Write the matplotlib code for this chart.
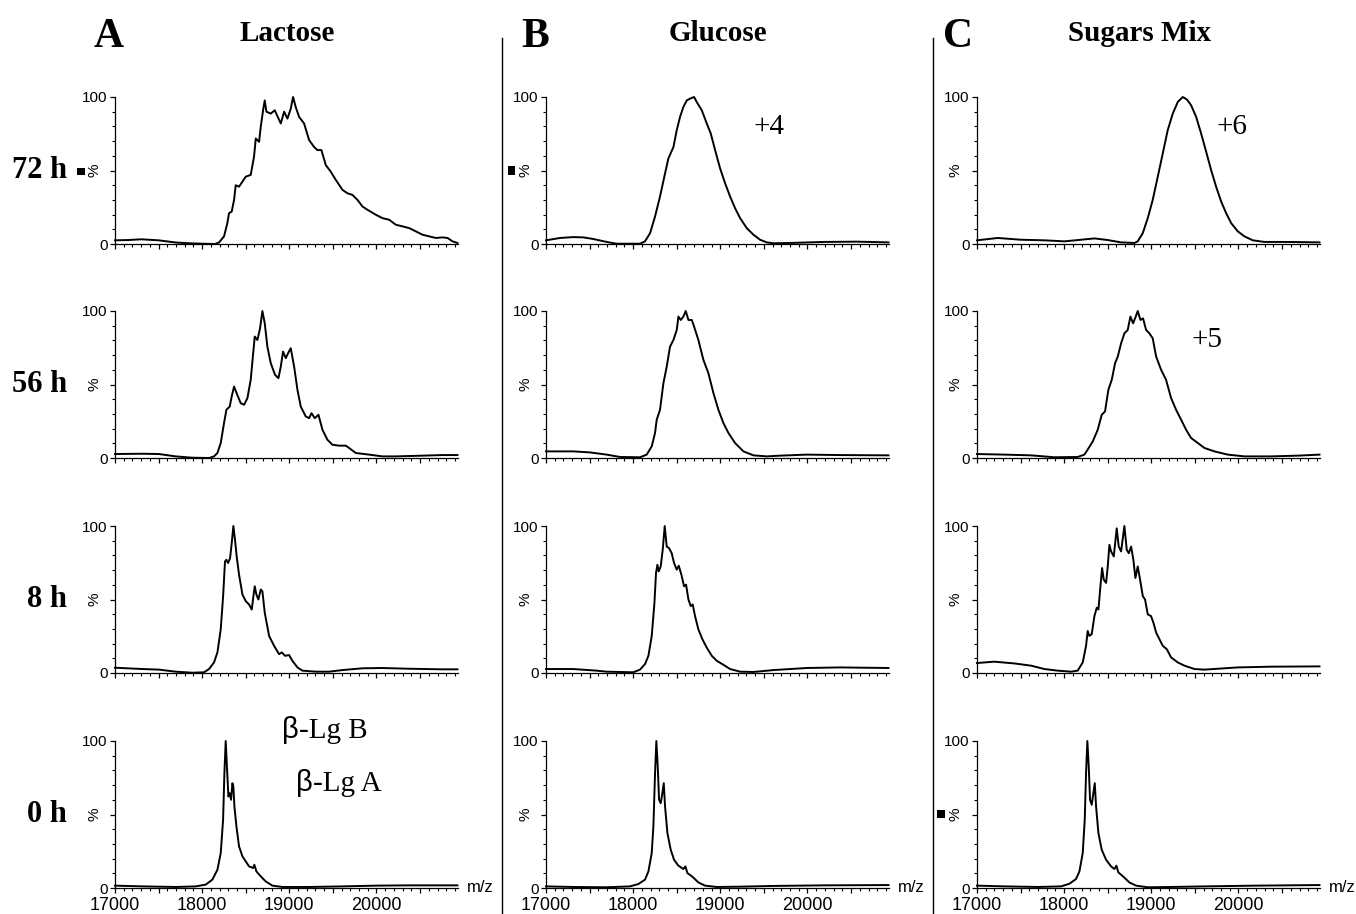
import matplotlib

matplotlib.use("Agg")
import matplotlib.pyplot as plt
import matplotlib.transforms as mtransforms
import numpy as np
from matplotlib.lines import Line2D
from matplotlib.patches import Rectangle

# ---- spectra (m/z, relative intensity %) ----
# A: Lactose
A72_mz = [17000, 17150, 17300, 17500, 17700, 17850, 18000, 18150, 18194, 18251, 18289, 18308, 18339, 18366, 18385,
          18423, 18462, 18500, 18557, 18595, 18615, 18653, 18672, 18699, 18718, 18737, 18787, 18833, 18863, 18902,
          18940, 18978, 19016, 19043, 19074, 19112, 19169, 19227, 19284, 19322, 19368, 19418, 19475, 19533, 19610,
          19667, 19724, 19782, 19839, 19896, 19992, 20068, 20145, 20222, 20298, 20375, 20451, 20528, 20604, 20681,
          20757, 20815, 20872, 20929]
A72_int = [2.5, 2.7, 3.2, 2.5, 1.0, 0.5, 0.2, 0.0, 1.1, 5.2, 14.2, 21, 22, 30, 40,
           39, 42.4, 45.8, 47, 59.4, 71.8, 69.5, 79.7, 91, 97.7, 90, 88.7, 91, 87, 82,
           90, 85.3, 92, 100, 93, 86.5, 82, 70.7, 66, 63.9, 63.9, 53.7, 49.2, 43.6, 36.8,
           34.5, 33.4, 30, 25.5, 23.3, 19.9, 17.6, 16.5, 13.1, 12, 10.8, 8.6, 6.3, 5.2, 4.1,
           4.5, 4.1, 1.8, 0.7]

A56_mz = [17000, 17314, 17505, 17696, 17888, 18079, 18136, 18175, 18213, 18251, 18278, 18316, 18339, 18366, 18396,
          18442, 18481, 18519, 18557, 18603, 18634, 18664, 18691, 18718, 18748, 18787, 18836, 18875, 18902, 18928,
          18959, 18986, 19016, 19055, 19093, 19131, 19188, 19227, 19254, 19292, 19334, 19380, 19437, 19495, 19571,
          19648, 19686, 19762, 19915, 20068, 20222, 20528, 20757, 20929]
A56_int = [2.7, 2.9, 2.7, 1.1, 0.2, 0, 1.1, 3.4, 10.2, 23.8, 32.8, 35, 41.9, 48.6, 44,
           37.3, 36.2, 40.7, 53.2, 82.6, 80.3, 88.2, 100, 91.6, 75.8, 64.5, 56.6, 54.3, 62.2, 72.4,
           67.9, 71.3, 74.7, 62.2, 46.4, 35, 28.3, 27.1, 30.5, 27.1, 29.4, 19.2, 12.4, 9, 8.4,
           8.4, 6.8, 3.4, 2.3, 1.1, 1.1, 1.6, 2, 2]

A8_mz = [17000, 17314, 17505, 17696, 17888, 18022, 18079, 18136, 18175, 18213, 18240, 18262, 18278, 18297, 18320,
         18339, 18358, 18377, 18396, 18423, 18462, 18500, 18538, 18569, 18588, 18603, 18622, 18645, 18672, 18691,
         18718, 18768, 18825, 18882, 18913, 18951, 18997, 19035, 19093, 19150, 19303, 19456, 19610, 19839, 20068,
         20375, 20757, 20929]
A8_int = [3.6, 2.7, 2.3, 0.9, 0.2, 0.5, 2.7, 7.2, 14, 29.7, 52, 75.9, 77, 74.8, 78,
          88.3, 100, 90.5, 79.3, 66.9, 53.4, 48.9, 46.6, 43.2, 52.3, 59, 53.4, 50, 56.8, 55.6,
          41, 25.2, 18.5, 12.8, 14, 11.7, 12.2, 8.3, 3.8, 1.6, 0.9, 0.9, 2, 3.2, 3.4,
          2.9, 2.5, 2.5]

A0_mz = [17000, 17314, 17696, 17926, 18041, 18117, 18175, 18213, 18240, 18255, 18270, 18286, 18301, 18316, 18331,
         18347, 18358, 18370, 18393, 18423, 18462, 18500, 18538, 18584, 18599, 18622, 18672, 18729, 18806, 18921,
         19227, 19610, 19992, 20375, 20929]
A0_int = [1.6, 1.1, 0.7, 1.1, 2.3, 5.7, 12.4, 23.8, 46.4, 78, 100, 80.3, 62.2, 64.5, 60,
          71.3, 69, 55.4, 41.9, 28.3, 21.5, 18.1, 14.7, 13.6, 15.8, 11.3, 7.9, 4.5, 1.6, 0.7,
          0.7, 1.1, 1.6, 1.8, 1.8]

# B: Glucose
B72_mz = [17000, 17161, 17314, 17429, 17543, 17696, 17811, 18079, 18136, 18194, 18251, 18308, 18366, 18404, 18462,
          18500, 18538, 18576, 18615, 18653, 18699, 18729, 18787, 18844, 18890, 18940, 18997, 19055, 19112, 19169,
          19227, 19303, 19380, 19456, 19533, 19610, 19801, 20183, 20566, 20929]
B72_int = [2.5, 4.1, 4.7, 4.5, 3.4, 1.4, 0.2, 0.2, 1.8, 7.4, 18.7, 32.3, 48.1, 58.2, 66,
           77.4, 86.5, 93.2, 97.7, 98.9, 100, 96.6, 91, 82, 75.2, 63.9, 51.5, 41.3, 32.3, 24.4,
           17.6, 10.8, 6.3, 2.9, 1.1, 0.5, 0.7, 1.4, 1.6, 1.1]

B56_mz = [17000, 17314, 17505, 17696, 17849, 18079, 18155, 18213, 18251, 18270, 18308, 18347, 18385, 18423, 18462,
          18500, 18519, 18546, 18576, 18603, 18634, 18672, 18699, 18748, 18806, 18863, 18921, 18978, 19035, 19093,
          19169, 19265, 19380, 19533, 19686, 19992, 20375, 20929]
B56_int = [4.5, 4.5, 3.8, 2.3, 0.7, 0.5, 2.3, 7.9, 17, 26, 32.8, 50.9, 62.2, 75.8, 80.3,
           87.1, 96.2, 93.9, 96.2, 100, 93.9, 93.9, 89.4, 80.3, 66.7, 57.7, 44.1, 32.8, 23.8, 17,
           10.2, 4.5, 1.8, 1.1, 1.6, 2.3, 2, 1.8]

B8_mz = [17000, 17314, 17582, 17696, 18002, 18079, 18136, 18175, 18213, 18244, 18262, 18278, 18293, 18316, 18339,
         18362, 18385, 18412, 18442, 18469, 18500, 18523, 18553, 18584, 18607, 18634, 18660, 18683, 18710, 18748,
         18794, 18844, 18902, 18959, 19035, 19112, 19227, 19380, 19610, 19992, 20375, 20929]
B8_int = [2.7, 2.7, 1.6, 0.9, 0.5, 2.3, 6.1, 11.7, 25.2, 47.7, 68, 73.6, 69.1, 72.5, 83.8,
          100, 86, 84.9, 81.5, 74.8, 70.3, 73, 66.9, 59, 60.1, 50, 45.5, 46.6, 38.7, 29.7,
          23, 17.3, 11.7, 8.3, 5.6, 2.7, 0.9, 0.7, 2, 3.4, 3.8, 3.4]

B0_mz = [17000, 17314, 17696, 17964, 18060, 18136, 18175, 18213, 18232, 18251, 18266, 18282, 18297, 18316, 18335,
         18351, 18366, 18393, 18431, 18469, 18519, 18576, 18599, 18622, 18683, 18748, 18825, 18959, 19227, 19610,
         20183, 20929]
B0_int = [1.1, 0.7, 0.5, 1.1, 2.7, 5.7, 11.3, 23.8, 41.9, 78, 100, 82.6, 60, 57.7, 64.5,
          71.3, 55.4, 37.3, 26, 19.2, 15.2, 12.9, 14.7, 10.2, 7.5, 3.8, 1.6, 0.7, 0.9, 1.4,
          1.8, 2]

# C: Sugars Mix
C72_mz = [17000, 17237, 17505, 17773, 18002, 18194, 18347, 18500, 18653, 18806, 18844, 18902, 18959, 19016, 19074,
          19131, 19188, 19246, 19303, 19361, 19410, 19456, 19514, 19571, 19629, 19686, 19743, 19801, 19858, 19916,
          19992, 20068, 20164, 20298, 20566, 20929]
C72_int = [2.5, 4.1, 2.9, 2.5, 1.8, 2.9, 3.8, 2.7, 1.1, 0.7, 1.8, 7.4, 17.6, 30, 45.8,
           61.6, 77.4, 88.7, 96.6, 100, 98.2, 94.4, 86.5, 75.2, 62.8, 50.3, 39, 28.9, 21, 14.2,
           8.6, 5.2, 2.5, 1.4, 1.4, 1.1]

C56_mz = [17000, 17314, 17620, 17888, 18155, 18232, 18270, 18328, 18385, 18431, 18469, 18507, 18546, 18584, 18615,
          18653, 18691, 18729, 18760, 18791, 18821, 18844, 18875, 18905, 18940, 18978, 19016, 19055, 19112, 19169,
          19227, 19284, 19342, 19399, 19456, 19533, 19610, 19724, 19877, 20068, 20375, 20681, 20929]
C56_int = [2.7, 2.3, 1.8, 0.5, 0.7, 2.3, 5.7, 11.3, 19.2, 29.4, 31.7, 46.4, 53.2, 64.5, 69,
           78, 84.8, 87.1, 96.2, 91.6, 96.2, 100, 93.9, 95, 87.1, 84.8, 81.4, 69, 60, 53.2,
           40.7, 32.8, 26, 19.2, 13.6, 10.2, 6.8, 4.5, 2.3, 1.1, 1.1, 1.6, 2.3]

C8_mz = [17000, 17199, 17429, 17620, 17773, 17926, 18079, 18155, 18213, 18251, 18270, 18289, 18316, 18347, 18374,
         18393, 18416, 18435, 18454, 18481, 18500, 18519, 18538, 18569, 18603, 18626, 18653, 18691, 18718, 18741,
         18768, 18794, 18817, 18844, 18871, 18902, 18928, 18959, 18997, 19024, 19055, 19093, 19131, 19177, 19227,
         19303, 19380, 19495, 19610, 19839, 19992, 20375, 20929]
C8_int = [6.8, 7.7, 6.5, 5, 2.7, 1.6, 0.9, 1.6, 7.2, 18.5, 28.6, 25.2, 26.4, 38.7, 44.4,
          43.2, 59, 71.4, 63.5, 61.3, 72.5, 87.2, 82.7, 79.3, 98.4, 86, 82.7, 100, 83.8, 81.5,
          86, 77, 64.6, 72.5, 63.5, 52.3, 50, 39.9, 38.7, 34.2, 27.5, 23, 18.5, 16.2, 10.6,
          7.2, 5, 2.7, 2.3, 3.2, 3.8, 4.3, 4.5]

C0_mz = [17000, 17314, 17696, 17964, 18060, 18136, 18175, 18213, 18236, 18251, 18266, 18282, 18297, 18316, 18335,
         18351, 18366, 18393, 18431, 18481, 18538, 18576, 18599, 18622, 18683, 18748, 18825, 18959, 19227, 19610,
         20183, 20929]
C0_int = [1.6, 1.1, 0.7, 1.1, 2.9, 6.1, 11.3, 23.8, 46.4, 78, 100, 82.6, 60, 56.6, 64.5,
          71.3, 55.4, 37.3, 26, 19.2, 14.7, 12.9, 15.2, 10.6, 7.5, 3.8, 1.6, 0.5, 0.7, 1.1,
          1.6, 2]

column_titles = ["Lactose", "Glucose", "Sugars Mix"]
column_letters = ["A", "B", "C"]
row_labels = ["72 h", "56 h", "8 h", "0 h"]
x_ticklabels = ["17000", "18000", "19000", "20000"]

SPECTRA = [
    [(A72_mz, A72_int), (B72_mz, B72_int), (C72_mz, C72_int)],
    [(A56_mz, A56_int), (B56_mz, B56_int), (C56_mz, C56_int)],
    [(A8_mz, A8_int), (B8_mz, B8_int), (C8_mz, C8_int)],
    [(A0_mz, A0_int), (B0_mz, B0_int), (C0_mz, C0_int)],
]

# ---- layout (pixels of the 1356x914 canvas) ----
W, H = 1356, 914
COL_LEFT = [115, 546, 977]
AX_W = 343
ROW_TOP = [97, 311, 526, 741]
AX_H = 147

SERIF = "Liberation Serif"
SANS = "Liberation Sans"


def fx(x):
    return x / W


def fy(y):
    return 1 - y / H


fig = plt.figure(figsize=(W / 100, H / 100), dpi=100, facecolor="white")

for r, top in enumerate(ROW_TOP):
    for c, left in enumerate(COL_LEFT):
        ax = fig.add_axes([fx(left), fy(top + AX_H), AX_W / W, AX_H / H])
        mz, inten = SPECTRA[r][c]
        ax.plot(mz, inten, color="black", lw=1.4, clip_on=False)
        ax.set_xlim(17000, 20935)
        ax.set_ylim(0, 100)

        for s in ["top", "right"]:
            ax.spines[s].set_visible(False)
        for s in ["left", "bottom"]:
            ax.spines[s].set_linewidth(0.9)

        ax.set_xticks(np.arange(17000, 20501, 500))
        ax.set_xticks(np.arange(17000, 20901, 100), minor=True)
        ax.set_yticks([0, 50, 100])
        ax.set_yticks(np.arange(0, 101, 10), minor=True)
        ax.set_yticklabels(["0", "", "100"], fontfamily=SANS, fontsize=11)
        ax.tick_params(which="major", direction="out", length=3.8, width=0.9, pad=1.5)
        ax.tick_params(which="minor", direction="out", length=2.2, width=0.8)

        if r == len(ROW_TOP) - 1:
            ax.set_xticklabels([x_ticklabels[i // 2] if i % 2 == 0 else "" for i in range(8)],
                               fontfamily=SANS, fontsize=13)
            shift = mtransforms.ScaledTranslation(9 / 100, 0, fig.dpi_scale_trans)
            for lab in ax.get_xticklabels():
                lab.set_transform(lab.get_transform() + shift)
            ax.tick_params(axis="x", which="major", pad=2.5)
            fig.text(fx(left + AX_W + 9), fy(top + AX_H), "m/z", fontfamily=SANS, fontsize=12,
                     ha="left", va="center")
        else:
            ax.set_xticklabels([])

        # rotated "%" in place of the 50 label
        fig.text(fx(left - 21), fy(top + AX_H / 2), "%", rotation=90, fontfamily=SANS, fontsize=11,
                 ha="center", va="center")

# row labels
for r, top in enumerate(ROW_TOP):
    fig.text(fx(67), fy(top + AX_H / 2), row_labels[r], fontfamily=SERIF, fontweight="bold",
             fontsize=22, ha="right", va="center")

# column headers
letter_x = [109, 535, 958]
title_x = [287, 718, 1140]
for c in range(3):
    fig.text(fx(letter_x[c]), fy(47), column_letters[c], fontfamily=SERIF, fontweight="bold",
             fontsize=30, ha="center", va="baseline")
    fig.text(fx(title_x[c]), fy(41), column_titles[c], fontfamily=SERIF, fontweight="bold",
             fontsize=21, ha="center", va="baseline")

# separators between panels
for xs in [502, 933]:
    fig.add_artist(Line2D([fx(xs), fx(xs)], [fy(38), fy(914)], transform=fig.transFigure,
                          color="black", lw=1.0))

# small black marks left of some "%" labels
for (x0, y0, w, h) in [(77, 168, 8, 7), (508, 166, 7, 9), (937, 810, 8, 8)]:
    fig.add_artist(Rectangle((fx(x0), fy(y0 + h)), w / W, h / H, transform=fig.transFigure,
                             color="black", lw=0))

# charge-state annotations
fig.text(fx(769), fy(134), "+4", fontfamily=SERIF, fontsize=21, ha="center", va="baseline")
fig.text(fx(1232), fy(134), "+6", fontfamily=SERIF, fontsize=21, ha="center", va="baseline")
fig.text(fx(1207), fy(347), "+5", fontfamily=SERIF, fontsize=21, ha="center", va="baseline")

# beta-lactoglobulin variants in the 0 h lactose panel
for (xb, yb, name) in [(299, 738, "-Lg B"), (313, 791, "-Lg A")]:
    fig.text(fx(xb), fy(yb), "β", fontfamily=SANS, fontsize=21, ha="right", va="baseline")
    fig.text(fx(xb), fy(yb), name, fontfamily=SERIF, fontsize=21, ha="left", va="baseline")

fig.savefig("out.png", dpi=100, facecolor="white")
